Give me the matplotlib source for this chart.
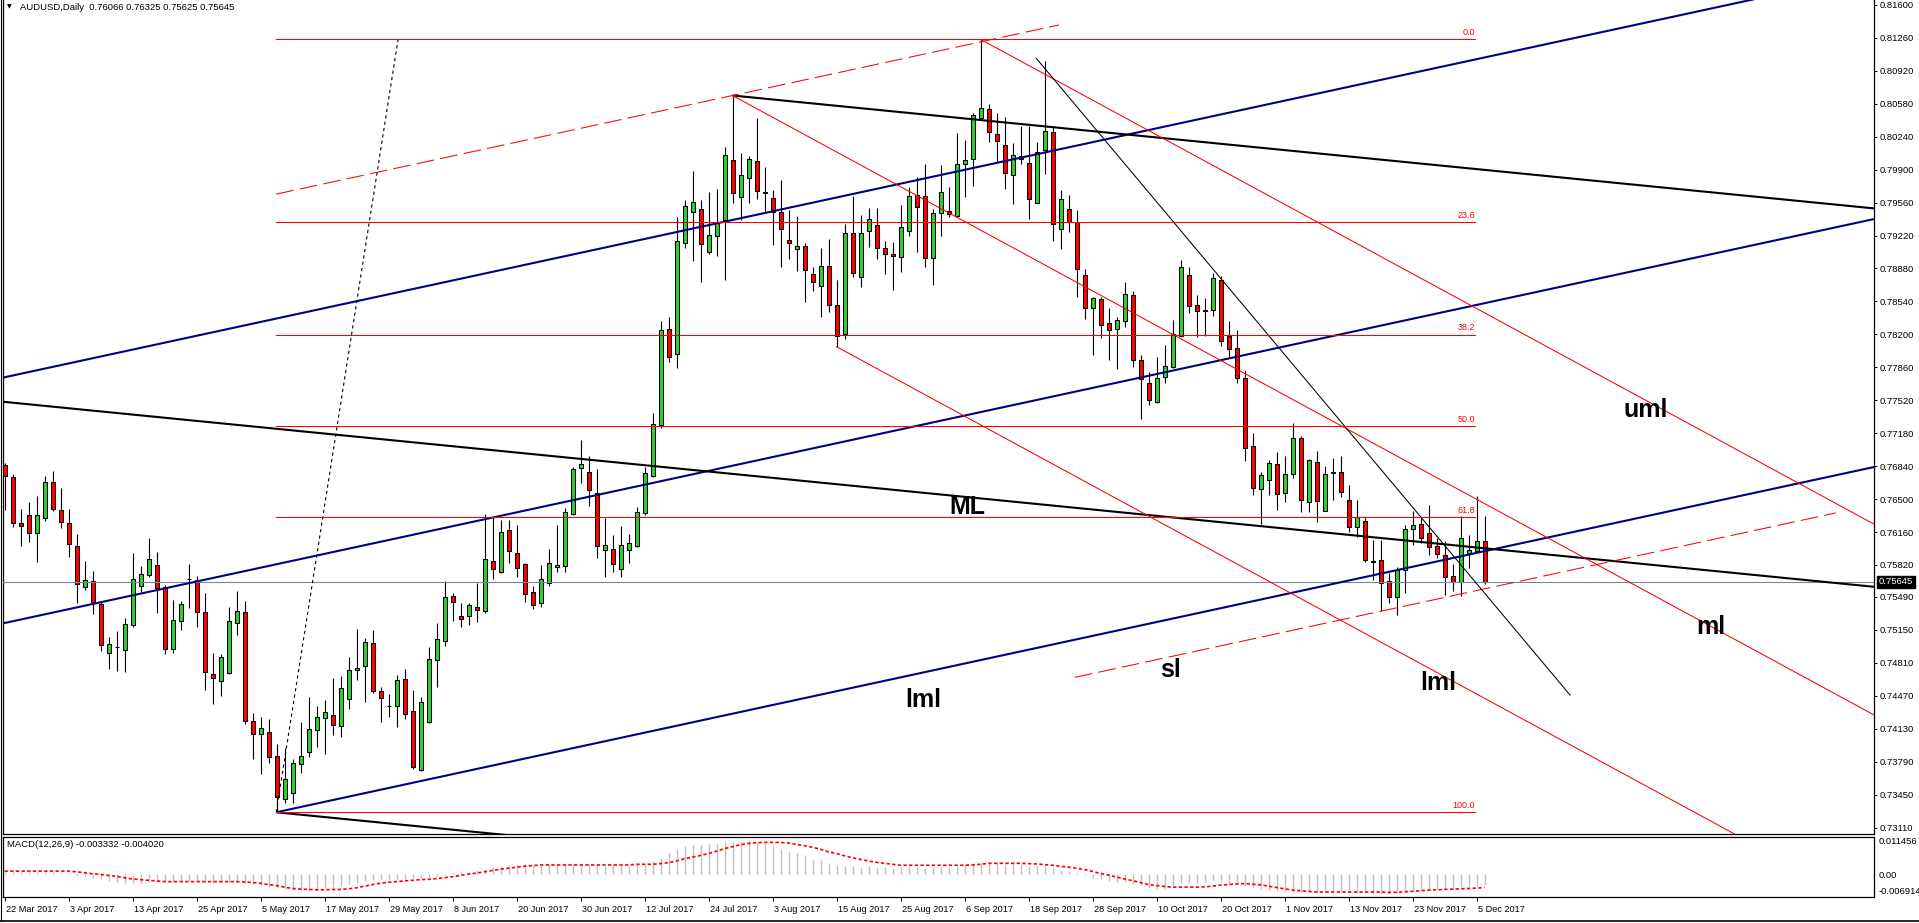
import matplotlib
matplotlib.use("Agg")
import matplotlib.pyplot as plt
from matplotlib.patches import Rectangle
from matplotlib.lines import Line2D
import matplotlib.transforms as mtransforms
import pandas as pd
import numpy as np

plt.rcParams['font.family'] = ['Liberation Sans', 'DejaVu Sans']

# ---------------- data ----------------
opens = [
0.76852, 0.76732, 0.76250, 0.76333, 0.76147, 0.76302, 0.76673, 0.76384, 0.76250, 0.76013,
0.75589, 0.75651, 0.75414, 0.74908, 0.74977, 0.74939, 0.75197, 0.75603, 0.75713, 0.75816,
0.75589, 0.74950, 0.75239, 0.75679, 0.75662, 0.75331, 0.74692, 0.74619, 0.74702, 0.75218,
0.75331, 0.74207, 0.74073, 0.74093, 0.73845, 0.73402, 0.73464, 0.73763, 0.73887, 0.74114,
0.74238, 0.74269, 0.74155, 0.74434, 0.74733, 0.74774, 0.75012, 0.74516, 0.74368, 0.74361,
0.74640, 0.74310, 0.73701, 0.74196, 0.74836, 0.75032, 0.75497, 0.75290, 0.75290, 0.75383,
0.75342, 0.75858, 0.75751, 0.76177, 0.75940, 0.75827, 0.75538, 0.75424, 0.75631, 0.75796,
0.75806, 0.76343, 0.76817, 0.76780, 0.76559, 0.75971, 0.75982, 0.75775, 0.75971, 0.76019,
0.76353, 0.76735, 0.77261, 0.78252, 0.77994, 0.79140, 0.79459, 0.79490, 0.79047, 0.79212,
0.79377, 0.79996, 0.79614, 0.79810, 0.79986, 0.79669, 0.79604, 0.79466, 0.79170, 0.79078,
0.79109, 0.78820, 0.78696, 0.78902, 0.78500, 0.78200, 0.79243, 0.78789, 0.79263, 0.79325,
0.79088, 0.79026, 0.78995, 0.79263, 0.79635, 0.79624, 0.78985, 0.79449, 0.79470, 0.79418,
0.79955, 0.80006, 0.80429, 0.80522, 0.80264, 0.80151, 0.79841, 0.80037, 0.79965, 0.79552,
0.80099, 0.80285, 0.79284, 0.79490, 0.79356, 0.78809, 0.78469, 0.78562, 0.78314, 0.78252,
0.78335, 0.78603, 0.77932, 0.77695, 0.77499, 0.77757, 0.77860, 0.78180, 0.78809, 0.78500,
0.78452, 0.78448, 0.78758, 0.78180, 0.78056, 0.77746, 0.77044, 0.76601, 0.76694, 0.76859,
0.76559, 0.76759, 0.77127, 0.76467, 0.76879, 0.76374, 0.76780, 0.76776, 0.76487, 0.76209,
0.76271, 0.75861, 0.75868, 0.75651, 0.75486, 0.75765, 0.76188, 0.76240, 0.76147, 0.76013,
0.75920, 0.75703, 0.75641, 0.75930, 0.75961, 0.76066]

highs = [
0.76876, 0.76759, 0.76394, 0.76470, 0.76532, 0.76738, 0.76787, 0.76611, 0.76394, 0.76136,
0.75861, 0.75758, 0.75435, 0.75077, 0.75135, 0.75277, 0.75940, 0.75810, 0.76099, 0.75954,
0.75610, 0.75455, 0.75445, 0.75827, 0.75703, 0.75528, 0.74908, 0.74898, 0.75383, 0.75548,
0.75445, 0.74289, 0.74248, 0.74227, 0.73969, 0.73928, 0.73815, 0.74196, 0.74454, 0.74361,
0.74423, 0.74654, 0.74671, 0.74867, 0.75156, 0.75063, 0.75146, 0.74558, 0.74485, 0.74681,
0.74743, 0.74527, 0.74454, 0.74970, 0.75218, 0.75651, 0.75528, 0.75424, 0.75424, 0.75631,
0.76343, 0.76312, 0.76284, 0.76284, 0.76232, 0.75837, 0.75603, 0.75820, 0.75981, 0.76232,
0.76405, 0.76835, 0.77110, 0.76941, 0.76811, 0.76301, 0.76130, 0.76222, 0.76140, 0.76415,
0.76835, 0.77385, 0.78334, 0.78376, 0.79415, 0.79587, 0.79886, 0.79583, 0.79669, 0.79697,
0.80130, 0.80665, 0.80068, 0.80041, 0.80433, 0.79924, 0.79690, 0.79793, 0.79483, 0.79421,
0.79139, 0.78892, 0.79088, 0.79181, 0.78761, 0.79335, 0.79631, 0.79432, 0.79501, 0.79501,
0.79164, 0.79150, 0.79535, 0.79724, 0.79827, 0.79955, 0.79494, 0.79948, 0.79717, 0.80278,
0.80206, 0.80481, 0.81245, 0.80577, 0.80481, 0.80440, 0.80171, 0.80347, 0.80347, 0.80189,
0.81021, 0.80347, 0.79690, 0.79639, 0.79483, 0.78875, 0.78582, 0.78582, 0.78469, 0.78383,
0.78737, 0.78644, 0.77984, 0.77808, 0.77963, 0.78087, 0.78345, 0.78967, 0.78892, 0.78603,
0.78572, 0.78830, 0.78799, 0.78335, 0.78242, 0.77829, 0.77179, 0.76776, 0.76900, 0.76983,
0.76941, 0.77289, 0.77151, 0.76910, 0.76996, 0.76838, 0.76921, 0.76941, 0.76642, 0.76491,
0.76312, 0.76074, 0.76074, 0.75734, 0.75796, 0.76229, 0.76374, 0.76312, 0.76436, 0.76095,
0.76064, 0.75827, 0.76322, 0.76126, 0.76528, 0.76325]

lows = [
0.76388, 0.76209, 0.76016, 0.76061, 0.75854, 0.76278, 0.76381, 0.76205, 0.75899, 0.75431,
0.75562, 0.75311, 0.74929, 0.74743, 0.74723, 0.74712, 0.75177, 0.75545, 0.75700, 0.75321,
0.74898, 0.74908, 0.75146, 0.75373, 0.75184, 0.74527, 0.74382, 0.74465, 0.74695, 0.75094,
0.74176, 0.73815, 0.73660, 0.73773, 0.73268, 0.73367, 0.73367, 0.73670, 0.73835, 0.73938,
0.73866, 0.74062, 0.74042, 0.74330, 0.74630, 0.74403, 0.74496, 0.74203, 0.74248, 0.74145,
0.74227, 0.73711, 0.73691, 0.74189, 0.74558, 0.74981, 0.75239, 0.75177, 0.75197, 0.75228,
0.75321, 0.75672, 0.75741, 0.75837, 0.75693, 0.75441, 0.75362, 0.75383, 0.75603, 0.75751,
0.75751, 0.76332, 0.76663, 0.76432, 0.75895, 0.75693, 0.75751, 0.75700, 0.75844, 0.76009,
0.76332, 0.76732, 0.77230, 0.77911, 0.77850, 0.79088, 0.78961, 0.78744, 0.79026, 0.79012,
0.78765, 0.79552, 0.79380, 0.79552, 0.79600, 0.79449, 0.79122, 0.78899, 0.78981, 0.78857,
0.78537, 0.78651, 0.78383, 0.78434, 0.78073, 0.78149, 0.78796, 0.78685, 0.79098, 0.78974,
0.78820, 0.78654, 0.78840, 0.79215, 0.79047, 0.78892, 0.78706, 0.79212, 0.79415, 0.79415,
0.79621, 0.79735, 0.80419, 0.80182, 0.79975, 0.79697, 0.79542, 0.79955, 0.79387, 0.79552,
0.79851, 0.79160, 0.79078, 0.79253, 0.78582, 0.78355, 0.77984, 0.78159, 0.77939, 0.77839,
0.78273, 0.77860, 0.77323, 0.77468, 0.77488, 0.77695, 0.77849, 0.78169, 0.78417, 0.78169,
0.78180, 0.78393, 0.78077, 0.77953, 0.77695, 0.76890, 0.76539, 0.76240, 0.76539, 0.76384,
0.76467, 0.76714, 0.76370, 0.76370, 0.76260, 0.76374, 0.76487, 0.76518, 0.76157, 0.76105,
0.75851, 0.75662, 0.75342, 0.75424, 0.75300, 0.75527, 0.76023, 0.76043, 0.75920, 0.75889,
0.75507, 0.75548, 0.75497, 0.75785, 0.75940, 0.75625]

closes = [
0.76738, 0.76250, 0.76222, 0.76147, 0.76333, 0.76673, 0.76394, 0.76260, 0.76033, 0.75620,
0.75662, 0.75435, 0.74991, 0.75001, 0.74970, 0.75208, 0.75672, 0.75724, 0.75878, 0.75579,
0.74950, 0.75249, 0.75414, 0.75672, 0.75331, 0.74712, 0.74650, 0.74867, 0.75239, 0.75342,
0.74207, 0.74073, 0.74135, 0.73835, 0.73422, 0.73615, 0.73773, 0.73845, 0.74124, 0.74248,
0.74300, 0.74165, 0.74547, 0.74733, 0.74754, 0.75022, 0.74516, 0.74444, 0.74361, 0.74630,
0.74279, 0.73732, 0.74403, 0.74846, 0.75053, 0.75486, 0.75435, 0.75259, 0.75404, 0.75352,
0.75878, 0.75775, 0.76157, 0.75961, 0.75785, 0.75517, 0.75407, 0.75672, 0.75837, 0.75817,
0.76363, 0.76807, 0.76859, 0.76590, 0.76019, 0.76023, 0.75827, 0.76023, 0.76044, 0.76363,
0.76766, 0.77271, 0.78241, 0.77963, 0.79160, 0.79521, 0.79562, 0.79129, 0.79222, 0.79356,
0.80048, 0.79656, 0.79841, 0.80006, 0.79676, 0.79662, 0.79466, 0.79284, 0.79139, 0.79109,
0.78861, 0.78737, 0.78902, 0.78500, 0.78180, 0.79243, 0.78830, 0.79243, 0.79387, 0.79088,
0.79026, 0.79005, 0.79305, 0.79624, 0.79511, 0.78985, 0.79449, 0.79666, 0.79439, 0.79955,
0.79996, 0.80460, 0.80533, 0.80285, 0.80192, 0.79862, 0.80048, 0.80006, 0.79594, 0.80079,
0.80295, 0.79335, 0.79593, 0.79356, 0.78871, 0.78469, 0.78572, 0.78293, 0.78242, 0.78345,
0.78613, 0.77932, 0.77736, 0.77519, 0.77746, 0.77870, 0.78200, 0.78892, 0.78489, 0.78438,
0.78445, 0.78778, 0.78128, 0.78046, 0.77746, 0.77024, 0.76611, 0.76745, 0.76869, 0.76549,
0.76756, 0.77127, 0.76487, 0.76900, 0.76477, 0.76755, 0.76773, 0.76570, 0.76209, 0.76312,
0.75868, 0.75854, 0.75631, 0.75486, 0.75765, 0.76188, 0.76229, 0.76095, 0.76006, 0.75930,
0.75692, 0.75641, 0.76095, 0.75971, 0.76064, 0.75645]

# MACD main (histogram) and signal, in units of 1e-4
macd_main = [
8, 8, 7, 7, 6, 7, 6, 5, 4, -4,
-6, -11, -15, -20, -23, -27, -25, -25, -24, -22,
-23, -22, -21, -20, -21, -23, -25, -24, -22, -24,
-26, -30, -33, -37, -41, -45, -48, -50, -51, -49,
-43, -38, -34, -30, -25, -20, -16, -15, -14, -14,
-13, -12, -9, -7, -5, -1, 4, 6, 8, 12,
17, 22, 27, 30, 31, 31, 30, 30, 31, 33,
35, 36, 36, 32, 29, 27, 28, 30, 30, 31,
32, 41, 50, 65, 79, 86, 90, 91, 93, 95,
98, 100, 100, 102, 98, 95, 86, 79, 72, 67,
58, 44, 43, 35, 28, 27, 26, 24, 27, 24,
22, 20, 22, 24, 22, 20, 22, 24, 24, 27,
30, 34, 35, 38, 36, 32, 34, 32, 25, 25,
27, 20, 13, 10, 3, -3, -11, -15, -20, -23,
-23, -30, -32, -42, -44, -44, -36, -27, -27, -25,
-23, -20, -23, -25, -30, -36, -42, -46, -48, -51,
-53, -53, -53, -53, -55, -53, -51, -53, -55, -58,
-58, -59, -60, -59, -57, -53, -49, -48, -47, -44,
-46, -44, -39, -36, -34, -33.32]

macd_signal = [
10, 10, 10, 10, 10, 10, 10, 10, 10, 8,
5, 2, 0, -3, -6, -10, -14, -16, -18, -20,
-22, -22, -22, -22, -22, -22, -22, -22, -22, -22,
-23, -25, -27, -31, -34, -39, -43, -45, -46, -47,
-47, -46, -46, -44, -41, -36, -31, -27, -24, -22,
-20, -18, -16, -15, -13, -10, -7, -3, 1, 4,
8, 12, 16, 19, 22, 25, 27, 29, 29, 29,
29, 29, 29, 29, 29, 29, 29, 29, 29, 31,
31, 31, 33, 36, 41, 48, 53, 58, 64, 71,
79, 85, 91, 95, 97, 98, 98, 98, 96, 92,
88, 83, 77, 69, 64, 57, 51, 46, 41, 37,
34, 31, 28, 28, 28, 28, 28, 28, 28, 28,
28, 29, 31, 34, 34, 34, 34, 34, 33, 32,
30, 28, 25, 22, 19, 15, 9, 3, -2, -8,
-14, -19, -25, -31, -34, -37, -39, -39, -39, -39,
-38, -36, -33, -31, -29, -28, -30, -32, -36, -40,
-44, -48, -50, -52, -54, -54, -54, -54, -54, -54,
-54, -54, -54, -55, -55, -53, -52, -50, -48, -47,
-46, -45, -44, -43, -42, -40.20]

price_ticks = [0.81600, 0.81260, 0.80920, 0.80580, 0.80240, 0.79900, 0.79560, 0.79220,
               0.78880, 0.78540, 0.78200, 0.77860, 0.77520, 0.77180, 0.76840, 0.76500,
               0.76160, 0.75820, 0.75490, 0.75150, 0.74810, 0.74470, 0.74130, 0.73790,
               0.73450, 0.73110]

fib_low = 0.73268   # 9 May 2017 low
fib_high = 0.81245  # 8 Sep 2017 high
fib_levels = [0.0, 23.6, 38.2, 50.0, 61.8, 100.0]
last_price = 0.75645
macd_axis_max = 0.011456
macd_axis_min = -0.006914

n = len(closes)
dates = pd.bdate_range("2017-03-22", periods=n)
tick_idx = list(range(0, n, 8))
date_labels = [f"{dates[i].day} {dates[i].strftime('%b %Y')}" for i in tick_idx]

# ---------------- figure ----------------
W, H, DPI = 1919, 923, 100
fig = plt.figure(figsize=(W / DPI, H / DPI), dpi=DPI, facecolor='white')

def fx(px):
    return px / W

def fy(py):
    return 1 - py / H

x_left, x_right = 3, 1874
main_top, main_bot = 0, 834
macd_top, macd_bot = 837, 897

ax = fig.add_axes([fx(x_left), fy(main_bot), fx(x_right) - fx(x_left), fy(main_top) - fy(main_bot)])
ax2 = fig.add_axes([fx(x_left), fy(macd_bot), fx(x_right) - fx(x_left), fy(macd_top) - fy(macd_bot)])

# pixel <-> bar: x = 4.5 + 8*bar
xlim = ((x_left - 4.5) / 8, (x_right - 4.5) / 8)
for a in (ax, ax2):
    a.set_xlim(*xlim)
    a.set_facecolor('white')

# price scale: 0.816 at y=4.9 px, 9690 px per unit
ax.set_ylim(0.816 - (main_bot - 4.9) / 9690, 0.816 + 4.9 / 9690)
ax2.set_ylim(macd_axis_min, macd_axis_max)

# ---- candles ----
bull = '#32cd32'
bear = '#ff0000'
ax.vlines(range(n), lows, highs, color='black', lw=0.8, zorder=2)
for i in range(n):
    o, c = opens[i], closes[i]
    col = bull if c >= o else bear
    ax.add_patch(Rectangle((i - 0.25, min(o, c)), 0.5, abs(c - o), facecolor=col,
                           edgecolor='black', lw=0.75, zorder=3))

# ---- drawing objects ----
far = 245
blue_slope = 0.0001784
fork_slope = -0.00008165
red_slope = -0.000448

def seg(b0, p0, slope, b1, **kw):
    ax.plot([b0, b1], [p0, p0 + slope * (b1 - b0)], **kw)

navy = dict(color='#000080', lw=1.5, zorder=5, solid_capstyle='butt')
seg(-1, 0.77757 - blue_slope, blue_slope, far, **navy)
seg(-1, 0.75221 - blue_slope, blue_slope, far, **navy)
seg(33.97, fib_low, blue_slope, far, **navy)

blk = dict(color='black', lw=1.5, zorder=5, solid_capstyle='butt')
seg(-1, 0.77503 - fork_slope, fork_slope, far, **blk)
seg(91, 0.80665, fork_slope, far, **blk)
seg(33.97, fib_low, fork_slope, far, **blk)

redthin = dict(color='#ff0000', lw=0.75, zorder=5)
seg(91, 0.80665, red_slope, far, **redthin)
seg(122, 0.81245, red_slope, far, **redthin)
seg(104, 0.78073, red_slope, far, **redthin)

reddash = dict(color='#ff0000', lw=0.75, zorder=5, ls=(0, (17, 6)))
seg(33.97, 0.80665 + blue_slope * (33.97 - 91), blue_slope, 131.8, **reddash)
seg(133.8, 0.75342 + blue_slope * (133.8 - 172), blue_slope, 228.9, **reddash)

ax.plot([128.97, 195.69], [0.81049, 0.74478], color='black', lw=0.75, zorder=5)
ax.plot([33.97, 49.2], [fib_low, fib_high], color='black', lw=0.8, ls=(0, (2.9, 2.9)), zorder=5)

# Fibonacci levels
fib_x0, fib_x1 = 33.97, 183.8
for lv in fib_levels:
    p = fib_high - (fib_high - fib_low) * lv / 100.0
    ax.plot([fib_x0, fib_x1], [p, p], color='#ff0000', lw=0.75, zorder=5)
    ax.annotate(f"{lv:.1f}", (fib_x1, p), xytext=(0, 1.5), textcoords='offset points',
                ha='right', va='bottom', color='#ff0000', fontsize=6.5, zorder=6)

# last price line
ax.axhline(last_price, color='#778899', lw=0.8, zorder=4)

# big labels
lab = dict(fontsize=18, fontweight='bold', color='black', ha='center', va='center', zorder=7)
ax.text(120.3, 0.76418, "ML", **lab)
ax.text(205.2, 0.77420, "uml", **lab)
ax.text(114.9, 0.74427, "lml", **lab)
ax.text(145.7, 0.74741, "sl", **lab)
ax.text(179.2, 0.74601, "lml", **lab)
ax.text(213.3, 0.75184, "ml", **lab)

# ---- axes styling ----
for a in (ax, ax2):
    for s in a.spines.values():
        s.set_color('black')
        s.set_linewidth(0.9)
ax.spines['top'].set_visible(False)
ax.set_xticks([])
ax.yaxis.tick_right()
ax.set_yticks(price_ticks)
ax.set_yticklabels([f"{p:.5f}" for p in price_ticks])
ax.tick_params(axis='y', direction='out', length=2.2, width=0.7, pad=2, labelsize=6.8, colors='black')

bt = mtransforms.blended_transform_factory(ax.transAxes, ax.transData)
ax.text(1.0 + 5 / (x_right - x_left), last_price, "0.75645", transform=bt, ha='left', va='center',
        color='white', fontsize=6.8, zorder=8,
        bbox=dict(facecolor='black', edgecolor='black', boxstyle='square,pad=0.2'))

# ---- MACD ----
hist = np.array(macd_main) * 1e-4
sig = np.array(macd_signal) * 1e-4
ax2.vlines(range(n), 0, hist, color='#c0c0c0', lw=1.0, zorder=2)
ax2.plot(range(n), sig, color='#ff0000', lw=1.2, ls=(0, (2.0, 1.4)), zorder=3)
ax2.set_yticks([])
ax2.set_xticks(tick_idx)
ax2.tick_params(axis='x', direction='out', length=3, width=0.7, labelbottom=False)
ax2.text(0.002, 0.87, "MACD(12,26,9) -0.003332 -0.004020", transform=ax2.transAxes,
         fontsize=6.8, ha='left', va='center')
fig.text(fx(1879), fy(842), "0.011456", fontsize=6.8, ha='left', va='center')
fig.text(fx(1879), fy(875), "0.00", fontsize=6.8, ha='left', va='center')
fig.text(fx(1879), fy(892), "-0.006914", fontsize=6.8, ha='left', va='center')

# date labels
dt = mtransforms.blended_transform_factory(ax2.transData, fig.transFigure) + \
     mtransforms.ScaledTranslation(2 / DPI, 0, fig.dpi_scale_trans)
for i, s in zip(tick_idx, date_labels):
    fig.text(i, fy(909), s, transform=dt, fontsize=6.6, ha='left', va='center')

# title
fig.text(fx(7), fy(7), "\u25bc", fontsize=4.5, ha='left', va='center', family='DejaVu Sans')
fig.text(fx(20), fy(7), "AUDUSD,Daily  0.76066 0.76325 0.75625 0.75645", fontsize=6.8,
         ha='left', va='center')

# window borders
fig.add_artist(Line2D([fx(0.5), fx(0.5)], [fy(0), fy(920)], color='black', lw=0.8))
fig.add_artist(Line2D([0, 1], [fy(920.5), fy(920.5)], color='black', lw=1.2))

fig.savefig("out.png", dpi=DPI, facecolor='white')
